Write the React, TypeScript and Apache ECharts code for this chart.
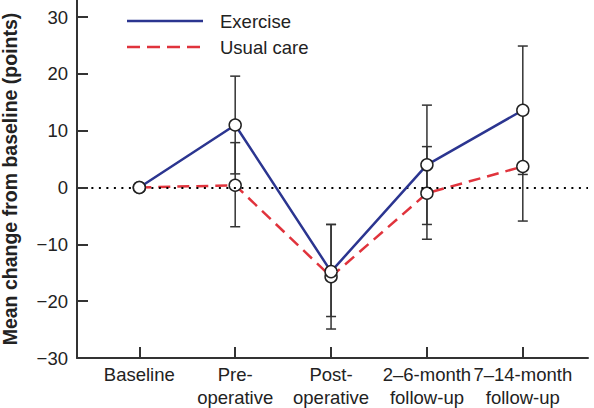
import React, { useEffect, useRef } from "react";
import * as echarts from "echarts";

const categories = [
  "Baseline",
  "Pre-\noperative",
  "Post-\noperative",
  "2–6-month\nfollow-up",
  "7–14-month\nfollow-up",
];
const exerciseMean = [0, 11.0, -14.8, 4.0, 13.6];
const exerciseLow = [null, 2.4, -22.7, -6.5, 2.3];
const exerciseHigh = [null, 19.6, -6.5, 14.5, 24.9];
const usualMean = [0, 0.4, -15.7, -1.0, 3.7];
const usualLow = [null, -6.9, -24.9, -9.1, -5.9];
const usualHigh = [null, 7.9, -6.5, 7.2, 13.3];
const yTicks = [-30, -20, -10, 0, 10, 20, 30];
const seriesNames = ["Exercise", "Usual care"];

const FONT = "'Liberation Sans', Arial, Helvetica, sans-serif";
const BLUE = "#2b3590";
const RED = "#e0333c";
const DARK = "#333333";
const FS = 18.5;

function errData(low: (number | null)[], high: (number | null)[]) {
  const out: number[][] = [];
  low.forEach((l, i) => {
    const h = high[i];
    if (l !== null && h !== null) out.push([i, l, h]);
  });
  return out;
}

function errRender(params: any, api: any) {
  const x = api.value(0);
  const lo = api.value(1);
  const hi = api.value(2);
  const top = api.coord([x, hi]);
  const bot = api.coord([x, lo]);
  const hw = 5;
  const style = { stroke: DARK, lineWidth: 1.5 };
  return {
    type: "group",
    children: [
      { type: "line", shape: { x1: top[0], y1: top[1], x2: bot[0], y2: bot[1] }, style },
      { type: "line", shape: { x1: top[0] - hw, y1: top[1], x2: top[0] + hw, y2: top[1] }, style },
      { type: "line", shape: { x1: bot[0] - hw, y1: bot[1], x2: bot[0] + hw, y2: bot[1] }, style },
    ],
  };
}

export default function App() {
  const ref = useRef<HTMLDivElement>(null);
  useEffect(() => {
    if (!ref.current) return;
    const chart = echarts.init(ref.current, null, { renderer: "svg" });
    const symbolStyle = { color: "#ffffff", borderColor: "#222", borderWidth: 1.5 };
    chart.setOption({
      animation: false,
      textStyle: { fontFamily: FONT },
      grid: { left: 77, right: 6, top: 0, bottom: 50, containLabel: false, outerBoundsMode: "none" },
      xAxis: {
        type: "value",
        min: -0.65,
        max: 4.68,
        splitLine: { show: false },
        axisLine: { onZero: false, lineStyle: { color: DARK, width: 2 } },
        axisTick: { inside: true, length: 11, customValues: [0, 1, 2, 3, 4], lineStyle: { color: DARK, width: 2 } },
        axisLabel: {
          customValues: [0, 1, 2, 3, 4],
          formatter: (v: number) => categories[Math.round(v)] ?? "",
          hideOverlap: false,
          showMinLabel: true,
          showMaxLabel: true,
          color: "#222",
          fontSize: FS,
          lineHeight: 23,
          margin: 5,
          fontFamily: FONT,
        },
      },
      yAxis: {
        type: "value",
        min: -30,
        max: 33,
        name: "Mean change from baseline (points)",
        nameLocation: "middle",
        nameGap: 57,
        nameTextStyle: { fontSize: 19.5, fontWeight: "bold", color: "#222", fontFamily: FONT },
        splitLine: { show: false },
        axisLine: { show: true, onZero: false, lineStyle: { color: DARK, width: 2 } },
        axisTick: { show: true, inside: true, length: 11, customValues: yTicks, lineStyle: { color: DARK, width: 2 } },
        axisLabel: {
          customValues: yTicks,
          formatter: (v: number) => String(v).replace("-", "\u2212"),
          hideOverlap: false,
          color: "#222",
          fontSize: FS,
          margin: 9,
          fontFamily: FONT,
        },
      },
      graphic: [
        { type: "line", shape: { x1: 127, y1: 21, x2: 203, y2: 21 }, style: { stroke: BLUE, lineWidth: 2.5 } },
        { type: "text", x: 220, y: 21, style: { text: seriesNames[0], fontSize: FS, fill: "#222", fontFamily: FONT, verticalAlign: "middle" } },
        { type: "line", shape: { x1: 127, y1: 47, x2: 203, y2: 47 }, style: { stroke: RED, lineWidth: 2.5, lineDash: [13, 7] } },
        { type: "text", x: 220, y: 47, style: { text: seriesNames[1], fontSize: FS, fill: "#222", fontFamily: FONT, verticalAlign: "middle" } },
      ],
      series: [
        {
          type: "line",
          name: "zero",
          data: [],
          markLine: {
            silent: true,
            symbol: ["none", "none"],
            label: { show: false },
            lineStyle: { color: "#000", type: [2, 5.5], width: 2 },
            data: [[{ coord: [-0.5, 0] }, { coord: [4.68, 0] }]],
          },
        },
        {
          type: "custom",
          name: "errE",
          renderItem: errRender,
          data: errData(exerciseLow, exerciseHigh),
          z: 3,
        },
        {
          type: "custom",
          name: "errU",
          renderItem: errRender,
          data: errData(usualLow, usualHigh),
          z: 3,
        },
        {
          type: "line",
          name: seriesNames[1],
          data: usualMean.map((v, i) => [i, v]),
          lineStyle: { color: RED, width: 2.5, type: [12, 7] },
          symbol: "circle",
          symbolSize: 12,
          itemStyle: symbolStyle,
          z: 4,
        },
        {
          type: "line",
          name: seriesNames[0],
          data: exerciseMean.map((v, i) => [i, v]),
          lineStyle: { color: BLUE, width: 2.5 },
          symbol: "circle",
          symbolSize: 12,
          itemStyle: symbolStyle,
          z: 5,
        },
      ],
    });
    return () => chart.dispose();
  }, []);
  return <div ref={ref} style={{ width: 594, height: 408, position: "absolute", left: 0, top: 0 }} />;
}
